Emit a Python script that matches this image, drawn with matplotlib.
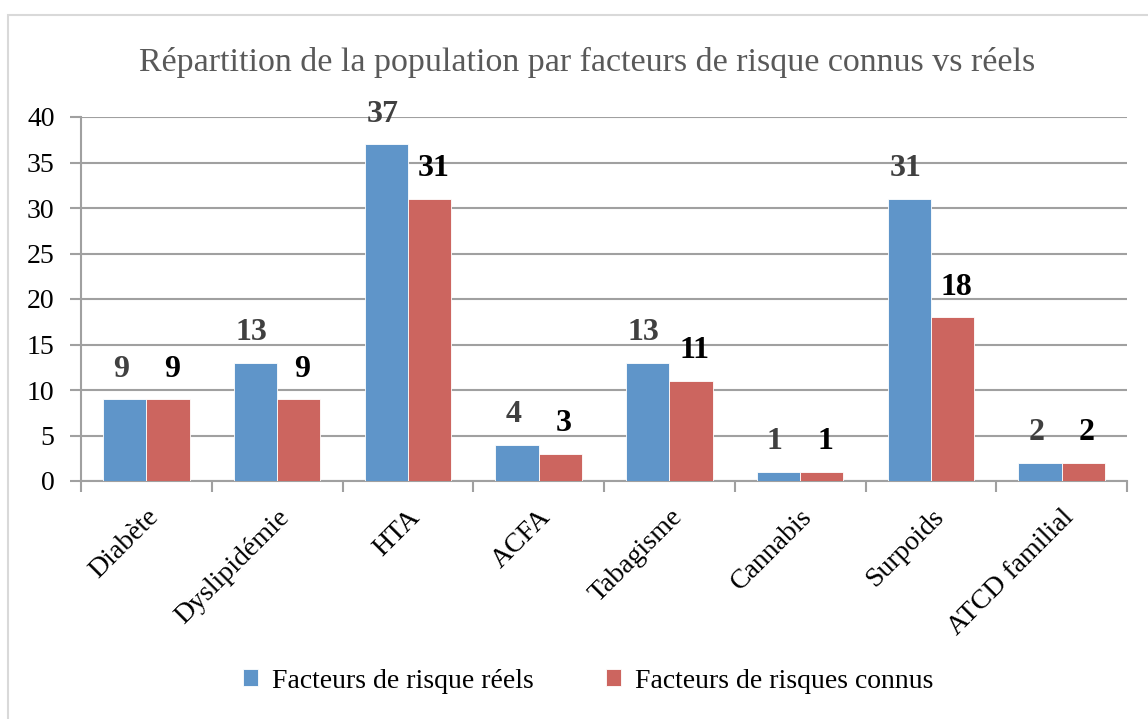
import matplotlib
matplotlib.use("Agg")
import matplotlib.pyplot as plt
from matplotlib.patches import Rectangle
import numpy as np

categories = ["Diabète", "Dyslipidémie", "HTA", "ACFA", "Tabagisme", "Cannabis", "Surpoids", "ATCD familial"]
reels = [9, 13, 37, 4, 13, 1, 31, 2]
connus = [9, 9, 31, 3, 11, 1, 18, 2]
series_names = ["Facteurs de risque réels", "Facteurs de risques connus"]
title = "Répartition de la population par facteurs de risque connus vs réels"
yticks = [0, 5, 10, 15, 20, 25, 30, 35, 40]

blue = "#5f95c9"
red = "#cc655f"
grid_c = "#a0a0a0"
serif = ["Liberation Serif", "DejaVu Serif"]

W, H = 1148, 719
fig = plt.figure(figsize=(W / 100, H / 100), dpi=100)
fig.patches.append(Rectangle((8 / W, -0.1), 1.2, 1 - 15 / H + 0.1, transform=fig.transFigure,
                             fill=False, edgecolor="#d9d9d9", linewidth=1.5))

ax = fig.add_axes([81 / W, 1 - 481 / H, (1127 - 81) / W, (481 - 117) / H])
x = np.arange(len(categories))
bw = 0.33
ax.bar(x - bw / 2, reels, bw, color=blue, edgecolor="white", linewidth=0.6, zorder=3, label=series_names[0])
ax.bar(x + bw / 2, connus, bw, color=red, edgecolor="white", linewidth=0.6, zorder=3, label=series_names[1])

for xi, v in zip(x, reels):
    ax.text(xi - bw / 2 - 0.03, v + 1.7, str(v), ha="center", va="bottom", fontsize=23,
            fontweight="bold", color="#404040", family=serif, zorder=4)
for xi, v in zip(x, connus):
    ax.text(xi + bw / 2 + 0.03, v + 1.7, str(v), ha="center", va="bottom", fontsize=23,
            fontweight="bold", color="black", family=serif, zorder=4)

ax.set_xlim(-0.5, len(categories) - 0.5)
ax.set_ylim(0, 40)
ax.set_yticks(yticks)
ax.set_yticklabels([str(t) for t in yticks], fontsize=20, family=serif)
ax.yaxis.grid(True, color=grid_c, linewidth=1.5, zorder=0)
ax.set_axisbelow(True)

ax.set_xticks(x)
ax.set_xticklabels(categories, rotation=45, ha="right", va="top", rotation_mode="anchor",
                   fontsize=20, family=serif)
ax.tick_params(axis="x", which="major", length=0, pad=17)
ax.set_xticks(np.arange(-0.5, len(categories), 1), minor=True)
ax.tick_params(axis="x", which="minor", length=8, width=1.5, color=grid_c, direction="out")
ax.tick_params(axis="y", length=8, width=1.5, color=grid_c, direction="out", pad=11)

for s in ["top", "right"]:
    ax.spines[s].set_visible(False)
for s in ["left", "bottom"]:
    ax.spines[s].set_color(grid_c)
    ax.spines[s].set_linewidth(1.5)

fig.text(587 / W, 1 - 62 / H, title, ha="center", va="center", fontsize=24.5, color="#595959", family=serif)

fig.legend(loc="center", bbox_to_anchor=(588 / W, 1 - 681 / H), ncol=2, frameon=False,
           prop={"family": serif, "size": 20}, handlelength=0.55, handleheight=0.55,
           handletextpad=0.5, columnspacing=2.6)

fig.savefig("out.png", dpi=100)
